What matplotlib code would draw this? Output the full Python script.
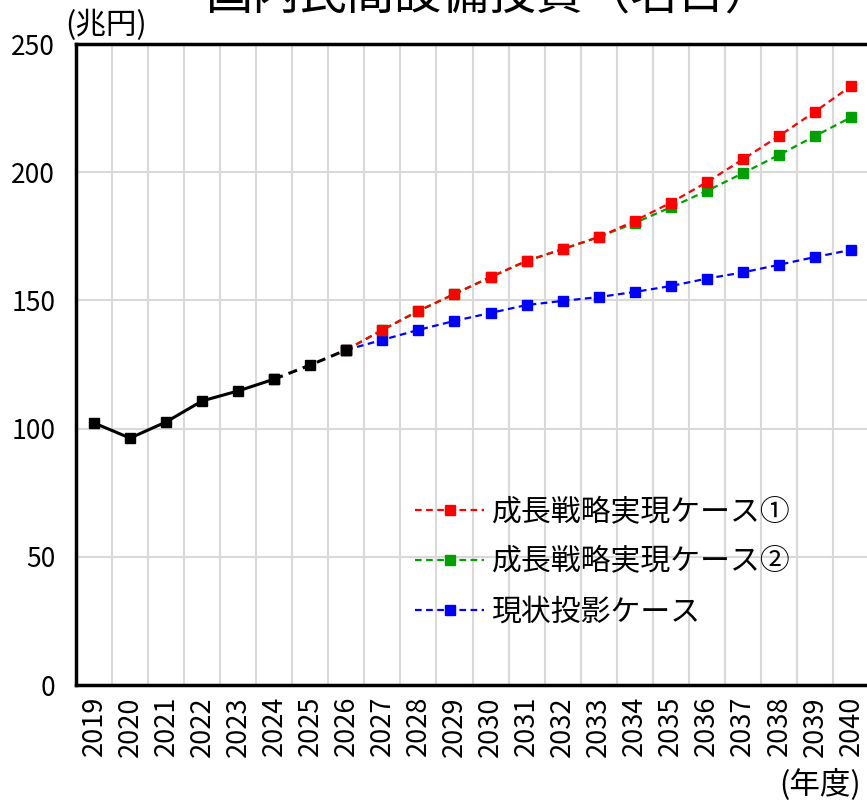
import numpy as np
import matplotlib.pyplot as plt

plt.rcParams['font.family'] = ['Noto Sans CJK JP', 'DejaVu Sans']

# 実績（2019-2024）と見込み（2024-2026）
years_act = [2019, 2020, 2021, 2022, 2023, 2024]
vals_act = [102.2, 96.3, 102.6, 110.8, 114.7, 119.3]
years_est = [2024, 2025, 2026]
vals_est = [119.3, 124.8, 130.7]

# 見通し（2026-2040）
years_fc = list(range(2026, 2041))
case1 = [130.7, 138.5, 145.9, 152.5, 159.1, 165.4, 170.0, 174.7,
         181.0, 188.1, 196.1, 205.0, 214.1, 223.6, 233.6]
case2 = [130.7, 138.5, 145.9, 152.5, 159.1, 165.4, 170.0, 174.7,
         180.2, 186.3, 192.7, 199.6, 206.7, 214.1, 221.4]
base = [130.7, 134.6, 138.5, 142.0, 145.1, 148.2, 149.8, 151.3,
        153.3, 155.6, 158.5, 160.9, 163.9, 166.9, 169.7]

labels = ['成長戦略実現ケース①', '成長戦略実現ケース②', '現状投影ケース']
colors = ['#ff0000', '#00a000', '#0000ff']

fig = plt.figure(figsize=(8.67, 8.05), dpi=100)
ax = fig.add_axes([76/867, 1-685/805, 793/867, 641/805])

ls = (0, (3, 2))
ax.plot(years_fc, base, ls=ls, color=colors[2], lw=1.6, marker='s', ms=7.5, label=labels[2])
ax.plot(years_fc, case2, ls=ls, color=colors[1], lw=1.6, marker='s', ms=7.5, label=labels[1])
ax.plot(years_fc, case1, ls=ls, color=colors[0], lw=1.6, marker='s', ms=7.5, label=labels[0])
ax.plot(years_act, vals_act, color='black', lw=2.2, marker='s', ms=7.5)
ax.plot(years_est, vals_est, ls=ls, color='black', lw=2.2, marker='s', ms=7.5)

ax.set_xlim(2018.5, 2040.5)
ax.set_ylim(0, 250)
ax.set_xticks(range(2019, 2041))
ax.set_xticklabels([str(y) for y in range(2019, 2041)], rotation=90, fontsize=19.5)
ax.set_yticks(range(0, 251, 50))
ax.set_yticklabels([str(v) for v in range(0, 251, 50)], fontsize=19)
ax.set_xticks(np.arange(2019.5, 2040.5, 1), minor=True)
ax.grid(True, which='minor', axis='x', color='#d9d9d9', lw=1.5)
ax.grid(True, which='major', axis='y', color='#d9d9d9', lw=1.5)
ax.set_axisbelow(True)
ax.tick_params(axis='both', which='both', length=0)
ax.tick_params(axis='y', pad=15)
ax.tick_params(axis='x', pad=8)
for s in ['left', 'bottom', 'top', 'right']:
    ax.spines[s].set_linewidth(2.5)
    ax.spines[s].set_color('black')

h, l = ax.get_legend_handles_labels()
order = [2, 1, 0]
ax.legend([h[i] for i in order], [l[i] for i in order], loc='lower left',
          bbox_to_anchor=(0.394, 0.048), frameon=False, fontsize=21.5,
          handlelength=2.3, handletextpad=0.25, labelspacing=0.63)

fig.text(0.565, 1.006, '国内民間設備投資（名目）', fontsize=34, ha='center', va='center')
fig.text(0.075, 0.968, '(兆円)', fontsize=22, ha='left', va='center')
fig.text(0.993, 0.025, '(年度)', fontsize=22, ha='right', va='center')

fig.savefig('out.png', dpi=100)
